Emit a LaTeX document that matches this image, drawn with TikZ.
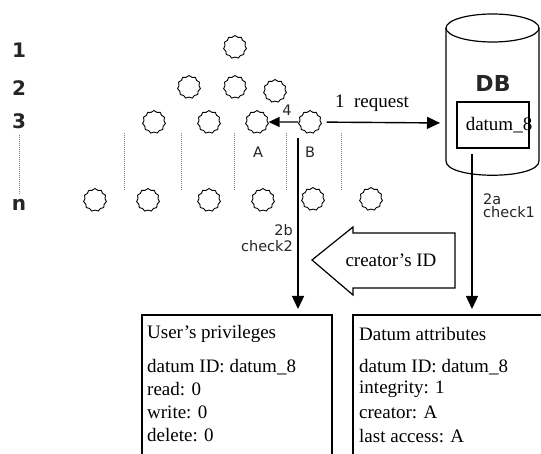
\documentclass[tikz,border=0pt]{standalone}
\usepackage{fontspec}
\setmainfont{Liberation Serif}
\newfontfamily\dejavu{DejaVu Sans}
\usetikzlibrary{shapes.symbols,arrows.meta}
\begin{document}
\begin{tikzpicture}[x=1pt,y=-1pt,
 peer/.style={cloud, cloud puffs=11, cloud puff arc=130, aspect=1, draw, line width=0.9pt, minimum width=23pt, minimum height=23pt, inner sep=0pt},
 lvl/.style={font=\dejavu\bfseries\fontsize{20}{22}\selectfont, inner sep=0pt, text=black!85},
 sml/.style={font=\dejavu\fontsize{14.5}{16}\selectfont, inner sep=0pt, text=black!85},
 txt/.style={font=\fontsize{19}{21}\selectfont, inner sep=0pt, anchor=west},
 dots/.style={line width=0.9pt, gray, dash pattern=on 1pt off 1pt},
 arr/.style={line width=1.4pt, -{Triangle[length=13pt,width=12pt]}},
 box/.style={line width=1.5pt},
]
\useasboundingbox (0,0) rectangle (541,454);
\fill[white] (0,0) rectangle (541,454);
\begin{scope}
\clip (0,0) rectangle (541,454);
% level labels
\node[lvl] (l1) at (19,50) {1};
\node[lvl] (l2) at (19,88) {2};
\node[lvl] (l3) at (19,121) {3};
\node[lvl] (ln) at (19,205) {n};
\draw[dots] ([yshift=-6pt]l3.south) -- ([yshift=5pt]ln.north);
% peers
\node[peer] (r1) at (235,47) {};
\node[peer] (r2a) at (189,87) {};
\node[peer] (r2b) at (235,87) {};
\node[peer] (r2c) at (275,91) {};
\node[peer] (r3a) at (154,122) {};
\node[peer] (r3b) at (209,122) {};
\node[peer] (A) at (257,122) {};
\node[peer] (B) at (310,122) {};
\node[peer] (na) at (95,200) {};
\node[peer] (nb) at (148,200) {};
\node[peer] (nc) at (209,200) {};
\node[peer] (nd) at (263,200) {};
\node[peer] (ne) at (313,199) {};
\node[peer] (nf) at (371,199) {};
\foreach \x in {124,181,234,286,341} \draw[dots] (\x,133) -- (\x,190);
\node[sml] (labA) at (258,152) {A};
\node[sml] (labB) at (310,152) {B};
\node[sml] (lab4) at (287,110) {4};
% DB cylinder
\draw[line width=1.2pt] (446,28) -- (446,161) .. controls (446,180) and (539,180) .. (539,161) -- (539,28);
\draw[line width=1.2pt] (492.5,28) ellipse [x radius=46.5pt, y radius=14pt];
\node[font=\dejavu\bfseries\fontsize{22}{24}\selectfont, inner sep=0pt, text=black!85] (db) at (493,83) {DB};
\node[draw, line width=1.3pt, minimum width=72pt, minimum height=46pt, inner sep=0pt] (dbbox) at (493,125) {};
\node[font=\fontsize{19}{21}\selectfont, inner sep=0pt] (dbtext) at (499,125) {datum\_8};
\coordinate (dbl) at (446,123);
% arrows
\draw[line width=1.4pt, -{Triangle[length=11pt,width=10pt]}] (B) -- (A);
\draw[arr, shorten <=5pt, shorten >=6pt] (B) -- (dbl);
\node[font=\fontsize{19}{21}\selectfont, inner sep=0pt] (req) at (372,103) {1\ \ request};
\coordinate (astart) at (472,154);
\coordinate (attrtop) at (472,315);
\coordinate (bstart) at (298,138);
\coordinate (privtop) at (298,315);
\draw[arr, shorten >=6pt] (astart) -- (attrtop);
\draw[arr, shorten >=6pt] (bstart) -- (privtop);
\node[sml, anchor=west] (l2a) at (483,199) {2a};
\node[sml, anchor=west] (lc1) at (483,212) {check1};
\node[sml, anchor=east] (l2b) at (293,230) {2b};
\node[sml, anchor=east] (lc2) at (293,246) {check2};
% creator's ID hollow arrow
\draw[line width=1.2pt, line join=miter] (312,260) -- (353,227) -- (353,233) -- (455,233) -- (455,288) -- (353,288) -- (353,295) -- cycle;
\node[font=\fontsize{19}{21}\selectfont, inner sep=0pt] (cid) at (391,260) {creator's ID};
% boxes
\draw[box] (142,460) -- (142,315) -- (332,315) -- (332,460);
\draw[box] (353,460) -- (353,315) -- (550,315);
\node[txt] (p0) at (147,334) {User's privileges};
\node[txt] (p1) at (147,367) {datum ID: datum\_8};
\node[txt] (p2) at (147,389) {read: 0};
\node[txt] (p3) at (147,412) {write: 0};
\node[txt] (p4) at (147,435) {delete: 0};
\node[txt] (d0) at (359,334) {Datum attributes};
\node[txt] (d1) at (359,367) {datum ID: datum\_8};
\node[txt] (d2) at (359,389) {integrity: 1};
\node[txt] (d3) at (359,412) {creator: A};
\node[txt] (d4) at (359,436) {last access: A};
\end{scope}
\end{tikzpicture}
\end{document}
